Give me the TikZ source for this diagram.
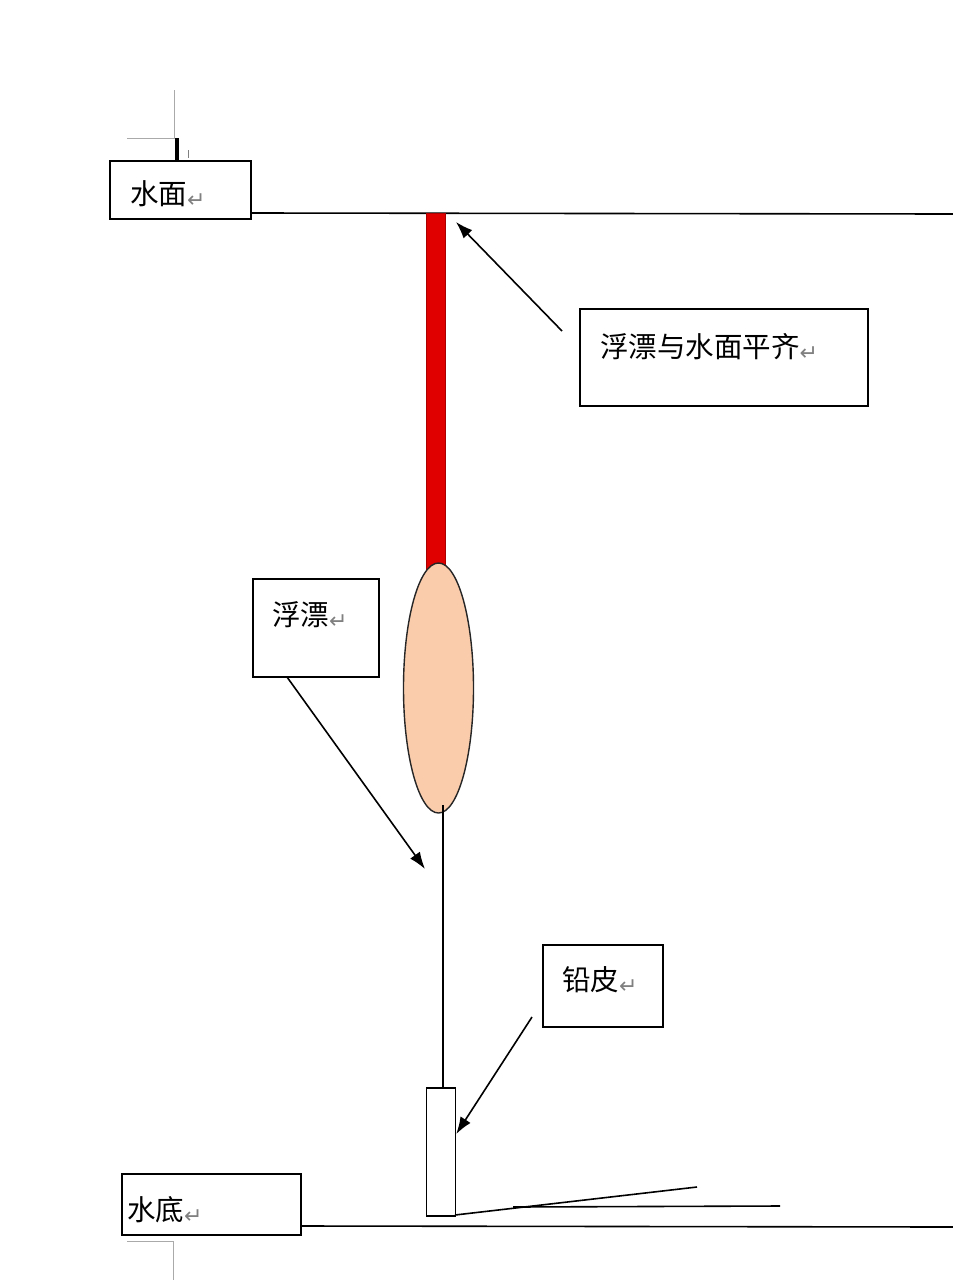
\documentclass[tikz,border=0pt]{standalone}
\usepackage{fontspec}
\newfontfamily\cjk{Noto Sans CJK SC}
\newfontfamily\dejavu{DejaVu Sans}
\usetikzlibrary{arrows.meta,shapes.geometric}
\definecolor{floatpeach}{RGB}{250,204,172}
\definecolor{rodred}{RGB}{224,0,0}
\definecolor{roddark}{RGB}{170,0,0}
\definecolor{markgray}{RGB}{170,170,170}
\newcommand{\parmark}{{\dejavu\fontsize{22pt}{22pt}\selectfont\color{gray}\raisebox{-3pt}{↵}}}
\tikzset{
  labelbox/.style={draw=black, line width=1.8pt, fill=white, inner sep=0pt},
  labeltext/.style={anchor=west, inner sep=0pt, font=\cjk\fontsize{28.5pt}{28.5pt}\selectfont},
  pointer/.style={line width=1.6pt, -{Latex[length=17pt,width=12pt]}},
  thinline/.style={line width=1.6pt},
  cropmark/.style={draw=markgray, line width=1pt}
}
\begin{document}
\begin{tikzpicture}[x=1pt,y=-1pt]
\useasboundingbox[fill=white] (0,0) rectangle (953,1280);

% crop marks
\draw[cropmark] (174,90) -- (174,138) -- (127,138);
\draw[cropmark] (127,1241) -- (173,1241) -- (173,1280);
\draw[line width=3.5pt] (177,138) -- (177,174);
\draw[line width=0.8pt, gray] (188,150) -- (188,158);

% water surface
\node[labelbox, minimum width=141pt, minimum height=58pt] (surfbox) at (180.5,190) {};
\node[labeltext] (surftext) at (130,194) {水面\parmark};
\draw[thinline] (surfbox.east |- 0,213) coordinate (surfL) -- (953,214) coordinate (surfR);

% red rod
\node[draw=roddark, fill=rodred, line width=1pt, minimum width=19pt, minimum height=356pt, inner sep=0pt] (rod) at (435.5,391) {};

% float body
\node[ellipse, draw=black!85, line width=1.4pt, fill=floatpeach, minimum width=70pt, minimum height=250pt, inner sep=0pt] (float) at (438.5,688) {};

% line and lead
\node[draw=black, line width=1.5pt, fill=white, minimum width=29pt, minimum height=128pt, inner sep=0pt] (lead) at (441,1152) {};
\coordinate (lineTop) at (443,805);
\draw[thinline] (lineTop) -- (lead.north -| lineTop);

% bottom
\node[labelbox, minimum width=179pt, minimum height=61pt] (bedbox) at (211.5,1204.5) {};
\node[labeltext] (bedtext) at (127,1210) {水底\parmark};
\draw[thinline] (bedbox.east |- 0,1226) coordinate (bedL) -- (953,1227) coordinate (bedR);
\coordinate (leadfoot) at (455,1215);
\coordinate (lineA) at (697,1187);
\coordinate (lineB0) at (513,1207);
\coordinate (lineB1) at (780,1206);
\draw[thinline] (leadfoot) -- (lineA);
\draw[thinline] (lineB0) -- (lineB1);

% label: float level with surface
\node[labelbox, minimum width=288pt, minimum height=97pt] (levelbox) at (724,357.5) {};
\node[labeltext] (leveltext) at (600,347) {浮漂与水面平齐\parmark};
\coordinate (levelstart) at (562,331);
\coordinate (rodtop) at (456,222);
\draw[pointer] (levelstart) -- (rodtop);

% label: float
\node[labelbox, minimum width=126pt, minimum height=98pt] (floatbox) at (316,628) {};
\node[labeltext] (floattext) at (272,615) {浮漂\parmark};
\coordinate (floatstart) at (287,677);
\coordinate (floatend) at (425,869);
\draw[pointer] (floatstart) -- (floatend);

% label: lead
\node[labelbox, minimum width=120pt, minimum height=82pt] (leadbox) at (603,986) {};
\node[labeltext] (leadtext) at (562,980) {铅皮\parmark};
\coordinate (leadstart) at (532,1017);
\draw[pointer] (leadstart) -- (lead.east |- 0,1134);
\end{tikzpicture}
\end{document}
